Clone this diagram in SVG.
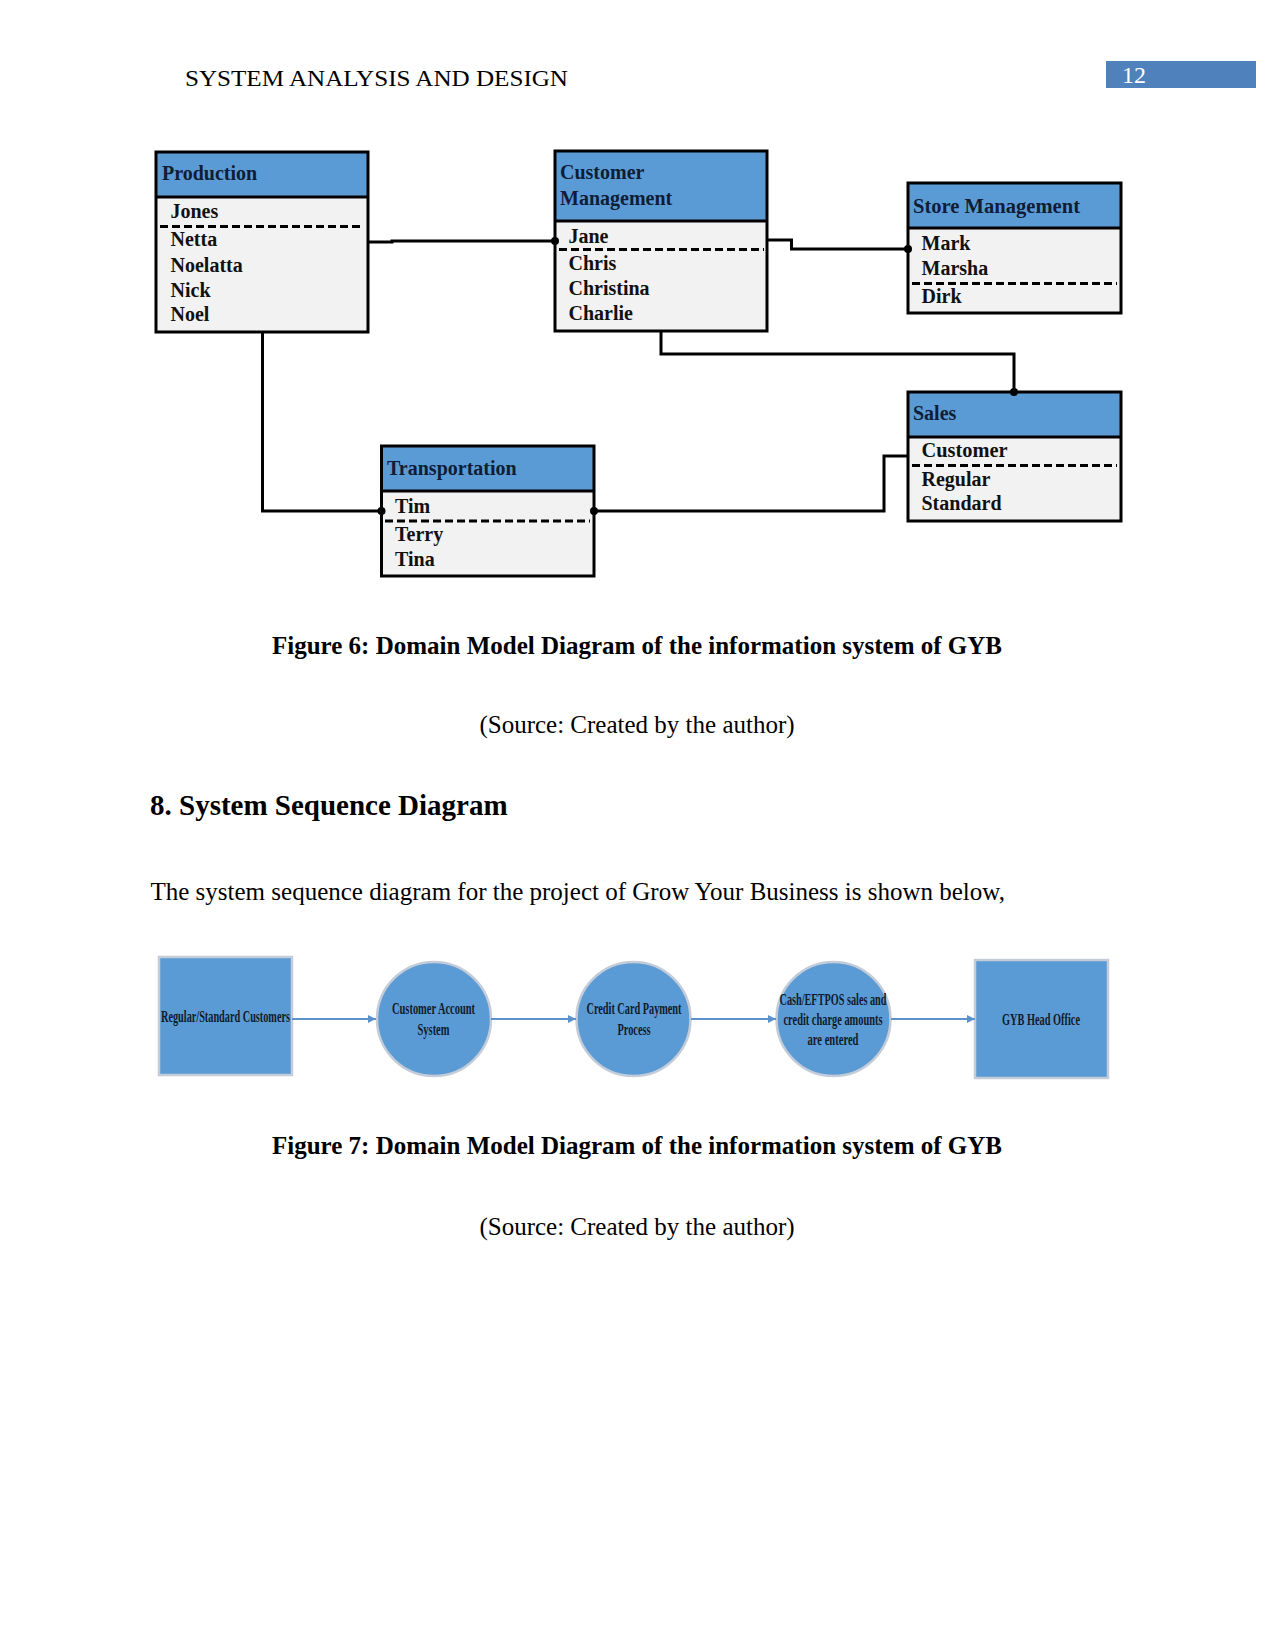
<svg xmlns="http://www.w3.org/2000/svg" width="1275" height="1650" viewBox="0 0 1275 1650">
<defs>
<style>
.page{font-family:"Liberation Serif","Times New Roman",serif;fill:#000}
.hdrbox{fill:#5B9BD5}
.body{fill:#F2F2F2}
.frame{fill:none;stroke:#000;stroke-width:3}
.div{stroke:#000;stroke-width:3}
.dash{stroke:#000;stroke-width:3;stroke-dasharray:8 4}
.ht{font-family:"Liberation Serif","Times New Roman",serif;font-weight:bold;font-size:20px;fill:#0f1d36}
.bt{font-family:"Liberation Serif","Times New Roman",serif;font-weight:bold;font-size:20px;fill:#111}
.conn{fill:none;stroke:#000;stroke-width:3}
.dot{fill:#000}
.snode{fill:#5B9BD5;stroke:#c3ccd8;stroke-width:2.5}
.st{font-family:"Liberation Serif","Times New Roman",serif;font-weight:bold;font-size:17px;fill:#111a2a;text-anchor:middle}
.arr{fill:none;stroke:#5B92CC;stroke-width:2}
</style>
<marker id="ah" markerWidth="9" markerHeight="9" refX="8" refY="4.5" orient="auto" markerUnits="userSpaceOnUse">
<path d="M0,0.5 L8,4.5 L0,8.5 Z" fill="#5B92CC"/>
</marker>
</defs>
<rect width="1275" height="1650" fill="#fff"/>

<!-- page header -->
<text class="page" x="185" y="86" font-size="24" textLength="383" lengthAdjust="spacingAndGlyphs">SYSTEM ANALYSIS AND DESIGN</text>
<rect x="1106" y="61" width="150" height="27" fill="#4F81BD"/>
<text x="1122" y="83" font-family="Liberation Serif, serif" font-size="24" fill="#fff">12</text>

<!-- Figure 6 -->
<g id="production">
<rect class="body" x="156" y="152" width="212" height="180"/>
<rect class="hdrbox" x="156" y="152" width="212" height="45"/>
<line class="div" x1="156" y1="197" x2="368" y2="197"/>
<rect class="frame" x="156" y="152" width="212" height="180"/>
<text class="ht" x="162" y="180">Production</text>
<text class="bt" x="170.5" y="218">Jones</text>
<line class="dash" x1="160" y1="226.5" x2="364" y2="226.5"/>
<text class="bt" x="170.5" y="246">Netta</text>
<text class="bt" x="170.5" y="271.5">Noelatta</text>
<text class="bt" x="170.5" y="296.5">Nick</text>
<text class="bt" x="170.5" y="321">Noel</text>
</g>

<g id="customer-management">
<rect class="body" x="555" y="151" width="212" height="180"/>
<rect class="hdrbox" x="555" y="151" width="212" height="70"/>
<line class="div" x1="555" y1="221" x2="767" y2="221"/>
<rect class="frame" x="555" y="151" width="212" height="180"/>
<text class="ht" x="560" y="179">Customer</text>
<text class="ht" x="560" y="205">Management</text>
<text class="bt" x="568.5" y="242.5">Jane</text>
<line class="dash" x1="559" y1="249.5" x2="764" y2="249.5"/>
<text class="bt" x="568.5" y="270">Chris</text>
<text class="bt" x="568.5" y="295">Christina</text>
<text class="bt" x="568.5" y="320">Charlie</text>
</g>

<g id="store-management">
<rect class="body" x="908" y="183" width="213" height="130"/>
<rect class="hdrbox" x="908" y="183" width="213" height="45"/>
<line class="div" x1="908" y1="228" x2="1121" y2="228"/>
<rect class="frame" x="908" y="183" width="213" height="130"/>
<text class="ht" x="913" y="212.5" textLength="167" lengthAdjust="spacingAndGlyphs">Store Management</text>
<text class="bt" x="921.5" y="250">Mark</text>
<text class="bt" x="921.5" y="275">Marsha</text>
<line class="dash" x1="912" y1="283.5" x2="1117" y2="283.5"/>
<text class="bt" x="921.5" y="302.5">Dirk</text>
</g>

<g id="sales">
<rect class="body" x="908" y="392" width="213" height="129"/>
<rect class="hdrbox" x="908" y="392" width="213" height="45"/>
<line class="div" x1="908" y1="437" x2="1121" y2="437"/>
<rect class="frame" x="908" y="392" width="213" height="129"/>
<text class="ht" x="913" y="419.5">Sales</text>
<text class="bt" x="921.5" y="457" textLength="86" lengthAdjust="spacingAndGlyphs">Customer</text>
<line class="dash" x1="912" y1="465.5" x2="1117" y2="465.5"/>
<text class="bt" x="921.5" y="486">Regular</text>
<text class="bt" x="921.5" y="510">Standard</text>
</g>

<g id="transportation">
<rect class="body" x="381.5" y="446" width="212.5" height="130"/>
<rect class="hdrbox" x="381.5" y="446" width="212.5" height="45"/>
<line class="div" x1="381.5" y1="491" x2="594" y2="491"/>
<rect class="frame" x="381.5" y="446" width="212.5" height="130"/>
<text class="ht" x="387" y="475">Transportation</text>
<text class="bt" x="395" y="512.5">Tim</text>
<line class="dash" x1="385" y1="521" x2="590" y2="521"/>
<text class="bt" x="395" y="540.5">Terry</text>
<text class="bt" x="395" y="566">Tina</text>
</g>

<g id="connectors">
<path class="conn" d="M368 242 H392 V241 H555"/>
<path class="conn" d="M767 240 H791.5 V249 H908"/>
<path class="conn" d="M661 331 V354 H1014 V392"/>
<path class="conn" d="M262.5 332 V511 H381.5"/>
<path class="conn" d="M594 511 H884 V456 H908"/>
<circle class="dot" cx="555" cy="241" r="4"/>
<circle class="dot" cx="908" cy="249" r="4"/>
<circle class="dot" cx="1014" cy="392" r="4"/>
<circle class="dot" cx="381.5" cy="511" r="4"/>
<circle class="dot" cx="594" cy="511" r="4"/>
</g>

<text class="page" x="637" y="654" font-size="25" font-weight="bold" text-anchor="middle">Figure 6: Domain Model Diagram of the information system of GYB</text>
<text class="page" x="637" y="733" font-size="25" text-anchor="middle">(Source: Created by the author)</text>

<text class="page" x="150" y="815" font-size="29" font-weight="bold">8. System Sequence Diagram</text>
<text class="page" x="150.5" y="900" font-size="25">The system sequence diagram for the project of Grow Your Business is shown below,</text>

<!-- Figure 7 -->
<g id="seq-customers">
<rect class="snode" x="159" y="957" width="133" height="118"/>
<text class="st" x="225.5" y="1021.5" textLength="129" lengthAdjust="spacingAndGlyphs">Regular/Standard Customers</text>
</g>
<g id="seq-account">
<circle class="snode" cx="434" cy="1019" r="57"/>
<text class="st" x="433.5" y="1014" textLength="83" lengthAdjust="spacingAndGlyphs">Customer Account</text>
<text class="st" x="433.5" y="1035" textLength="32" lengthAdjust="spacingAndGlyphs">System</text>
</g>
<g id="seq-payment">
<circle class="snode" cx="633.5" cy="1019" r="57"/>
<text class="st" x="634" y="1014" textLength="95" lengthAdjust="spacingAndGlyphs">Credit Card Payment</text>
<text class="st" x="634" y="1035" textLength="33" lengthAdjust="spacingAndGlyphs">Process</text>
</g>
<g id="seq-entered">
<circle class="snode" cx="833.5" cy="1019" r="57"/>
<text class="st" x="833" y="1004.5" textLength="107" lengthAdjust="spacingAndGlyphs">Cash/EFTPOS sales and</text>
<text class="st" x="833" y="1025" textLength="99" lengthAdjust="spacingAndGlyphs">credit charge amounts</text>
<text class="st" x="833" y="1045" textLength="51" lengthAdjust="spacingAndGlyphs">are entered</text>
</g>
<g id="seq-headoffice">
<rect class="snode" x="975" y="960" width="133" height="118"/>
<text class="st" x="1041" y="1025" textLength="78" lengthAdjust="spacingAndGlyphs">GYB Head Office</text>
</g>
<g id="seq-connectors">
<line class="arr" x1="292" y1="1019" x2="376" y2="1019" marker-end="url(#ah)"/>
<line class="arr" x1="491" y1="1019" x2="576" y2="1019" marker-end="url(#ah)"/>
<line class="arr" x1="691" y1="1019" x2="776" y2="1019" marker-end="url(#ah)"/>
<line class="arr" x1="891" y1="1019" x2="975" y2="1019" marker-end="url(#ah)"/>
</g>

<text class="page" x="637" y="1154" font-size="25" font-weight="bold" text-anchor="middle">Figure 7: Domain Model Diagram of the information system of GYB</text>
<text class="page" x="637" y="1235" font-size="25" text-anchor="middle">(Source: Created by the author)</text>
</svg>
